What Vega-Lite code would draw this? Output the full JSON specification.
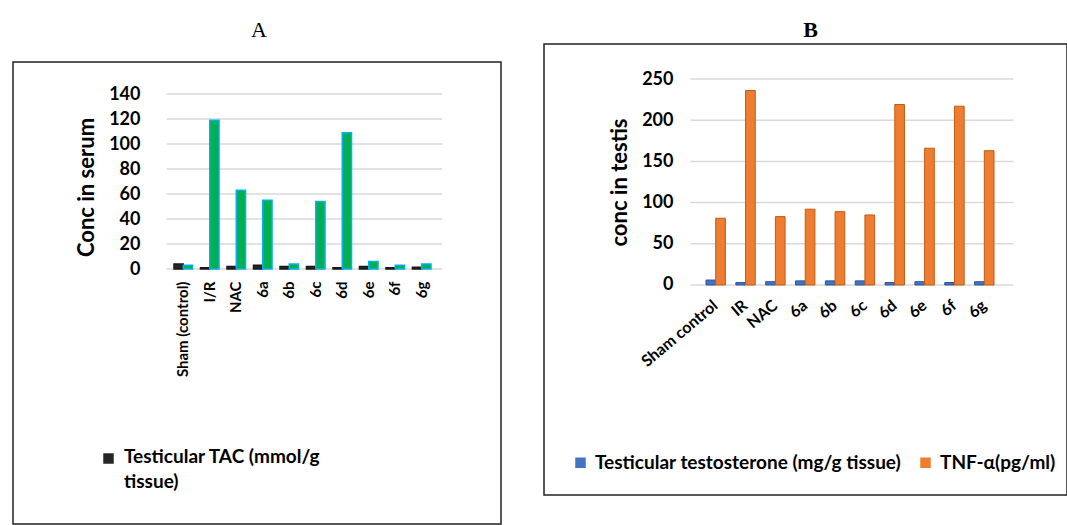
{
  "$schema": "https://vega.github.io/schema/vega-lite/v6.json",
  "padding": {"left": 12, "top": 18, "right": 0, "bottom": 0},
  "background": "white",
  "spacing": 41,
  "config": {
    "font": "Lato",
    "view": {"stroke": "#222222", "strokeWidth": 1.5},
    "axis": {"labelFont": "Lato", "titleFont": "Lato", "labelColor": "#000000", "titleColor": "#000000", "labelFontWeight": "bold", "titleFontWeight": "bold"},
    "legend": {"labelFont": "Lato", "labelFontWeight": "bold", "labelColor": "#000000"}
  },
  "resolve": {"scale": {"x": "independent", "y": "independent", "xOffset": "independent", "fill": "independent", "stroke": "independent"}, "legend": {"fill": "independent"}},
  "hconcat": [
    {
      "width": 488,
      "height": 481,
      "view": {"stroke": null},
      "title": {"text": "A", "font": "Liberation Serif", "fontSize": 22, "fontWeight": "normal", "offset": 2, "color": "#000000", "dx": 2},
      "layer": [
        {
          "data": {"values": [{}]},
          "mark": {"type": "rect", "fillOpacity": 0, "stroke": "#222222", "strokeWidth": 1.5},
          "encoding": {
            "y": {"datum": 165.6, "type": "quantitative"},
            "y2": {"datum": -204}
          }
        },
        {
          "data": {"values": [{"v": 0}, {"v": 20}, {"v": 40}, {"v": 60}, {"v": 80}, {"v": 100}, {"v": 120}, {"v": 140}]},
          "mark": {"type": "rule", "color": "#d9d9d9", "strokeWidth": 1.5},
          "encoding": {
            "y": {"field": "v", "type": "quantitative"},
            "x": {"datum": "Sham (control)", "type": "nominal", "bandPosition": -0.4},
            "x2": {"datum": "6g", "bandPosition": 1.6}
          }
        },
        {
          "data": {"values": [
            {"group": "Sham (control)", "series": "Testicular TAC (mmol/g tissue)", "value": 4},
            {"group": "Sham (control)", "series": "Serum level", "value": 3},
            {"group": "I/R", "series": "Testicular TAC (mmol/g tissue)", "value": 1},
            {"group": "I/R", "series": "Serum level", "value": 119},
            {"group": "NAC", "series": "Testicular TAC (mmol/g tissue)", "value": 2},
            {"group": "NAC", "series": "Serum level", "value": 63},
            {"group": "6a", "series": "Testicular TAC (mmol/g tissue)", "value": 3},
            {"group": "6a", "series": "Serum level", "value": 55},
            {"group": "6b", "series": "Testicular TAC (mmol/g tissue)", "value": 2},
            {"group": "6b", "series": "Serum level", "value": 4},
            {"group": "6c", "series": "Testicular TAC (mmol/g tissue)", "value": 2},
            {"group": "6c", "series": "Serum level", "value": 54},
            {"group": "6d", "series": "Testicular TAC (mmol/g tissue)", "value": 1},
            {"group": "6d", "series": "Serum level", "value": 109},
            {"group": "6e", "series": "Testicular TAC (mmol/g tissue)", "value": 2},
            {"group": "6e", "series": "Serum level", "value": 6},
            {"group": "6f", "series": "Testicular TAC (mmol/g tissue)", "value": 1},
            {"group": "6f", "series": "Serum level", "value": 3},
            {"group": "6g", "series": "Testicular TAC (mmol/g tissue)", "value": 1.5},
            {"group": "6g", "series": "Serum level", "value": 4}
          ]},
          "mark": {"type": "bar", "strokeWidth": 1.5},
          "encoding": {
            "x": {"field": "group", "type": "nominal",
              "scale": {"domain": ["Sham (control)", "I/R", "NAC", "6a", "6b", "6c", "6d", "6e", "6f", "6g"], "paddingInner": 0.3, "paddingOuter": 0, "range": [161, 418]},
              "axis": {"title": null, "orient": "bottom", "offset": -247, "labelPadding": 3, "ticks": false, "domain": false, "labelAngle": -90, "labelFontSize": 15}},
            "xOffset": {"field": "series", "type": "nominal", "scale": {"domain": ["Testicular TAC (mmol/g tissue)", "Serum level"]}},
            "y": {"field": "value", "type": "quantitative",
              "scale": {"domain": [-204.8, 180], "nice": false, "zero": false},
              "axis": {"values": [0, 20, 40, 60, 80, 100, 120, 140], "grid": false, "ticks": false, "domain": false, "offset": -129, "labelPadding": 2, "labelFontSize": 18, "title": "Conc in serum", "titleFontSize": 22, "titlePadding": 10, "titleY": 143}},
            "y2": {"datum": 0},
            "fill": {"field": "series", "type": "nominal",
              "scale": {"domain": ["Testicular TAC (mmol/g tissue)", "Serum level"], "range": ["#262626", "#00B050"]},
              "legend": {"title": null, "orient": "none", "legendX": 86, "legendY": 405, "values": ["Testicular TAC (mmol/g tissue)"], "symbolType": "square", "symbolSize": 110, "symbolStrokeWidth": 0, "labelFontSize": 19, "labelOffset": 6, "labelExpr": "datum.label == 'Testicular TAC (mmol/g tissue)' ? ['Testicular TAC (mmol/g', 'tissue)'] : datum.label", "labelLimit": 400,
                "encode": {"labels": {"update": {"lineHeight": {"value": 25}, "baseline": {"value": "top"}, "dy": {"value": -11}}}}}},
            "stroke": {"field": "series", "type": "nominal",
              "scale": {"domain": ["Testicular TAC (mmol/g tissue)", "Serum level"], "range": ["#1a1a1a", "#00B0F0"]},
              "legend": null}
          }
        }
      ]
    },
    {
      "width": 523,
      "height": 451,
      "title": {"text": "B", "font": "Liberation Serif", "fontSize": 22, "fontWeight": "bold", "offset": 2, "color": "#000000", "dx": 5},
      "layer": [
        {
          "data": {"values": [{"v": 0}, {"v": 50}, {"v": 100}, {"v": 150}, {"v": 200}, {"v": 250}]},
          "mark": {"type": "rule", "color": "#d9d9d9", "strokeWidth": 1.5},
          "encoding": {
            "y": {"field": "v", "type": "quantitative"},
            "x": {"datum": "Sham control", "type": "nominal", "bandPosition": -0.8},
            "x2": {"datum": "6g", "bandPosition": 2.0}
          }
        },
        {
          "data": {"values": [
            {"group": "Sham control", "series": "Testicular testosterone (mg/g tissue)", "value": 6},
            {"group": "Sham control", "series": "TNF-α(pg/ml)", "value": 81},
            {"group": "IR", "series": "Testicular testosterone (mg/g tissue)", "value": 3},
            {"group": "IR", "series": "TNF-α(pg/ml)", "value": 236},
            {"group": "NAC", "series": "Testicular testosterone (mg/g tissue)", "value": 4},
            {"group": "NAC", "series": "TNF-α(pg/ml)", "value": 83},
            {"group": "6a", "series": "Testicular testosterone (mg/g tissue)", "value": 5},
            {"group": "6a", "series": "TNF-α(pg/ml)", "value": 92},
            {"group": "6b", "series": "Testicular testosterone (mg/g tissue)", "value": 5},
            {"group": "6b", "series": "TNF-α(pg/ml)", "value": 89},
            {"group": "6c", "series": "Testicular testosterone (mg/g tissue)", "value": 5},
            {"group": "6c", "series": "TNF-α(pg/ml)", "value": 85},
            {"group": "6d", "series": "Testicular testosterone (mg/g tissue)", "value": 3},
            {"group": "6d", "series": "TNF-α(pg/ml)", "value": 219},
            {"group": "6e", "series": "Testicular testosterone (mg/g tissue)", "value": 4},
            {"group": "6e", "series": "TNF-α(pg/ml)", "value": 166},
            {"group": "6f", "series": "Testicular testosterone (mg/g tissue)", "value": 3},
            {"group": "6f", "series": "TNF-α(pg/ml)", "value": 217},
            {"group": "6g", "series": "Testicular testosterone (mg/g tissue)", "value": 4},
            {"group": "6g", "series": "TNF-α(pg/ml)", "value": 163}
          ]},
          "mark": {"type": "bar", "strokeWidth": 1},
          "encoding": {
            "x": {"field": "group", "type": "nominal",
              "scale": {"domain": ["Sham control", "IR", "NAC", "6a", "6b", "6c", "6d", "6e", "6f", "6g"], "paddingInner": 0.35, "paddingOuter": 0, "range": [162, 450]},
              "axis": {"title": null, "orient": "bottom", "offset": -196, "labelPadding": 4, "ticks": false, "domain": false, "labelAngle": -40, "labelFontSize": 16}},
            "xOffset": {"field": "series", "type": "nominal", "scale": {"domain": ["Testicular testosterone (mg/g tissue)", "TNF-α(pg/ml)"]}},
            "y": {"field": "value", "type": "quantitative",
              "scale": {"domain": [-254.9, 292.5], "nice": false, "zero": false},
              "axis": {"values": [0, 50, 100, 150, 200, 250], "grid": false, "ticks": false, "domain": false, "offset": -131, "labelPadding": 2, "labelFontSize": 18, "title": "conc in testis", "titleFontSize": 22, "titlePadding": 10, "titleY": 138}},
            "y2": {"datum": 0},
            "fill": {"field": "series", "type": "nominal",
              "scale": {"domain": ["Testicular testosterone (mg/g tissue)", "TNF-α(pg/ml)"], "range": ["#4472C4", "#ED7D31"]},
              "legend": {"title": null, "orient": "none", "direction": "horizontal", "legendX": 27, "legendY": 409, "symbolType": "square", "symbolSize": 110, "symbolStrokeWidth": 0, "labelFontSize": 19, "labelLimit": 400, "labelOffset": 5, "columnPadding": 14}},
            "stroke": {"field": "series", "type": "nominal",
              "scale": {"domain": ["Testicular testosterone (mg/g tissue)", "TNF-α(pg/ml)"], "range": ["#2F5597", "#C55A11"]},
              "legend": null}
          }
        }
      ]
    }
  ]
}
